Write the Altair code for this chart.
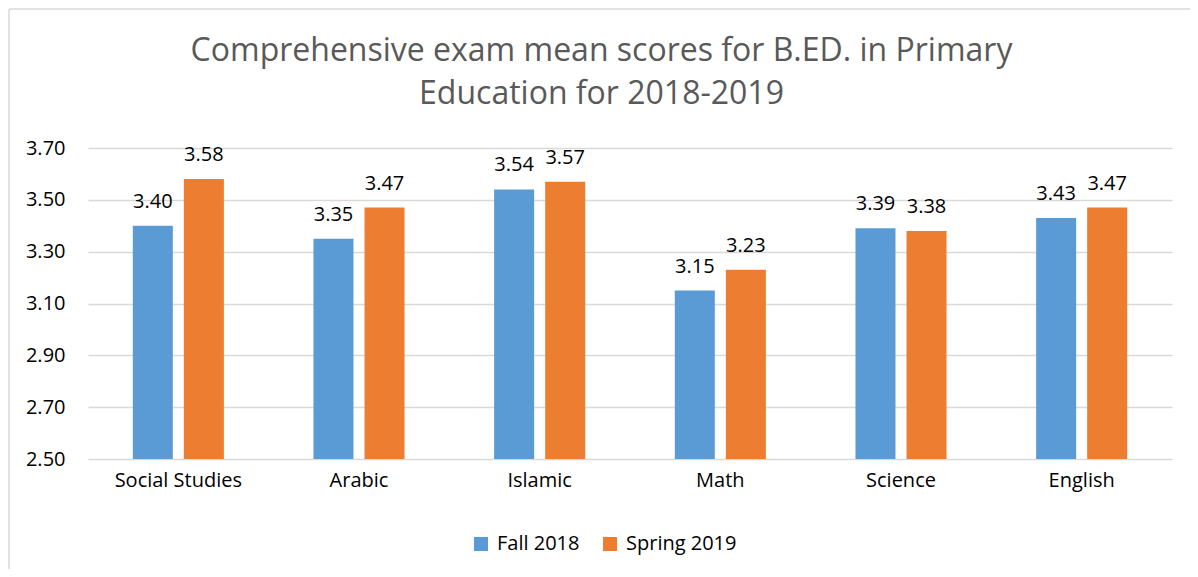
import altair as alt
import pandas as pd

subjects = ["Social Studies", "Arabic", "Islamic", "Math", "Science", "English"]
fall_2018 = [3.40, 3.35, 3.54, 3.15, 3.39, 3.43]
spring_2019 = [3.58, 3.47, 3.57, 3.23, 3.38, 3.47]
series = ["Fall 2018", "Spring 2019"]
y_ticks = [2.50, 2.70, 2.90, 3.10, 3.30, 3.50, 3.70]
title_lines = ["Comprehensive exam mean scores for B.ED. in Primary",
               "Education for 2018-2019"]

rows = []
for s, f, p in zip(subjects, fall_2018, spring_2019):
    rows.append({"Subject": s, "Term": series[0], "Score": f})
    rows.append({"Subject": s, "Term": series[1], "Score": p})
df = pd.DataFrame(rows)

FONT = "Open Sans"
W, H = 1084, 311

x_enc = alt.X("Subject:N", sort=subjects,
              scale=alt.Scale(paddingInner=0.496, paddingOuter=0.248),
              axis=alt.Axis(title=None, labelAngle=0, labelFontSize=20, labelColor="#000000",
                            labelFont=FONT, labelPadding=11, ticks=False, domain=False))
xoff = alt.XOffset("Term:N", sort=series, scale=alt.Scale(paddingInner=0.216, paddingOuter=0))
y_scale = alt.Scale(domain=[2.5, 3.7], nice=False, zero=False)

bars = alt.Chart(df).mark_bar().encode(
    x=x_enc,
    xOffset=xoff,
    y=alt.Y("Score:Q", scale=y_scale,
            axis=alt.Axis(title=None, values=y_ticks, format=".2f", labelFontSize=20,
                          labelColor="#000000", labelFont=FONT, labelPadding=23,
                          ticks=False, domain=False, grid=True, gridColor="#d9d9d9",
                          gridWidth=1.5)),
    y2=alt.datum(2.5),
    color=alt.Color("Term:N", sort=series,
                    scale=alt.Scale(domain=series, range=["#5B9BD5", "#ED7D31"]),
                    legend=alt.Legend(title=None, orient="none", legendX=383, legendY=386,
                                      direction="horizontal", symbolType="square",
                                      symbolSize=196, symbolStrokeWidth=0,
                                      labelFontSize=20, labelFont=FONT, labelColor="#000000",
                                      columnPadding=20, labelOffset=6)),
)

labels = alt.Chart(df).mark_text(fontSize=20, font=FONT, color="#000000",
                                 baseline="alphabetic", dy=-18).encode(
    x=alt.X("Subject:N", sort=subjects),
    xOffset=alt.XOffset("Term:N", sort=series),
    y=alt.Y("Score:Q", scale=y_scale),
    text=alt.Text("Score:Q", format=".2f"),
)

one = pd.DataFrame({"a": [0]})
title = alt.Chart(one).mark_text(fontSize=32, font=FONT, color="#595959", align="center",
                                 baseline="alphabetic", lineHeight=43).encode(
    x=alt.value(513.5), y=alt.value(-87), text=alt.value(title_lines))

border_left = alt.Chart(one).mark_rule(color="#d9d9d9", strokeWidth=1.5).encode(
    x=alt.value(-79), y=alt.value(-139), y2=alt.value(H + 110))
border_top = alt.Chart(one).mark_rule(color="#d9d9d9", strokeWidth=1.5).encode(
    x=alt.value(-79), x2=alt.value(W + 18), y=alt.value(-139))

chart = alt.layer(bars, labels, title, border_left, border_top).properties(
    width=W, height=H,
    autosize=alt.AutoSizeParams(type="none"),
    padding={"left": 80, "top": 140, "right": 18, "bottom": 110},
    background="white",
).configure_view(stroke=None)

chart.save("out.html", embed_options={"renderer": "svg", "actions": False})
